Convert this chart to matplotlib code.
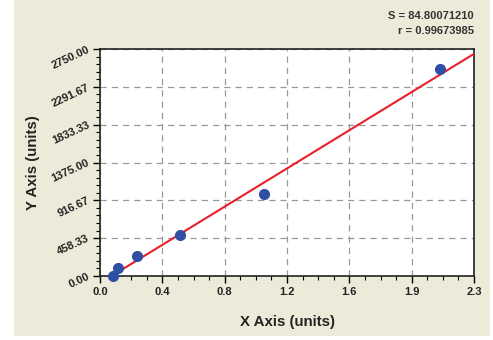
import numpy as np
import matplotlib
matplotlib.use("Agg")
import matplotlib.pyplot as plt
from matplotlib.ticker import AutoMinorLocator
from matplotlib.patches import Rectangle

plt.rcParams['font.family'] = ['Liberation Sans', 'DejaVu Sans']

# 標準曲線資料點
x_data = [0.08, 0.109, 0.23, 0.494, 1.01, 2.093]
y_data = [0, 100, 242, 493, 997, 2504]

x_ticks = np.linspace(0, 2.3, 7)
x_labels = ['0.0', '0.4', '0.8', '1.2', '1.6', '1.9', '2.3']
y_ticks = np.linspace(0, 2750, 7)
y_labels = ['0.00', '458.33', '916.67', '1375.00', '1833.33', '2291.67', '2750.00']
stat_lines = ['S = 84.80071210', 'r = 0.99673985']

fig = plt.figure(figsize=(4.93, 3.40), dpi=100)
fig.patch.set_facecolor('white')
# 米色背景框
fig.patches.append(Rectangle((14 / 493, 4 / 340), 476 / 493, 336 / 340,
                             transform=fig.transFigure, facecolor='#ECEBDA',
                             edgecolor='none', zorder=-10))

ax = fig.add_axes([100 / 493, 1 - 276 / 340, 374 / 493, 227 / 340])
ax.set_zorder(5)
ax.set_facecolor('white')

# 線性擬合
slope, intercept = np.polyfit(x_data, y_data, 1)
x_fit = np.array([-intercept / slope, 2.3])
ax.plot(x_fit, slope * x_fit + intercept, color='#E8202A', lw=1.5, zorder=3)
ax.plot(x_data, y_data, 'o', color='#2F4FA5', markersize=7, zorder=4, clip_on=False)

ax.set_xlim(0, 2.3)
ax.set_ylim(0, 2750)
ax.set_xticks(x_ticks)
ax.set_xticklabels(x_labels, fontsize=8, fontweight='bold', color='#222222')
ax.set_yticks(y_ticks)
ax.set_yticklabels(y_labels, fontsize=8, fontweight='bold', color='#222222',
                   rotation=25, ha='right', va='center', rotation_mode='anchor')
ax.xaxis.set_minor_locator(AutoMinorLocator(4))
ax.yaxis.set_minor_locator(AutoMinorLocator(5))
ax.tick_params(which='major', length=5, width=1, direction='out')
ax.tick_params(which='minor', length=3, width=0.8, direction='out')
ax.tick_params(axis='x', pad=3)
ax.tick_params(axis='y', pad=3)
ax.grid(True, which='major', linestyle=(0, (5, 4)), color='#999999', lw=0.9)
for sp in ax.spines.values():
    sp.set_color('#222222')
    sp.set_linewidth(1.2)

ax.set_xlabel('X Axis (units)', fontsize=10.8, fontweight='bold', color='#222222', labelpad=13)
ax.set_ylabel('Y Axis (units)', fontsize=10.8, fontweight='bold', color='#222222', labelpad=7)

fig.text(474 / 493, 1 - 16 / 340, stat_lines[0], ha='right', va='center',
         fontsize=8, fontweight='bold', color='#333333')
fig.text(474 / 493, 1 - 31 / 340, stat_lines[1], ha='right', va='center',
         fontsize=8, fontweight='bold', color='#333333')

fig.savefig('out.png', dpi=100, facecolor=fig.get_facecolor())
